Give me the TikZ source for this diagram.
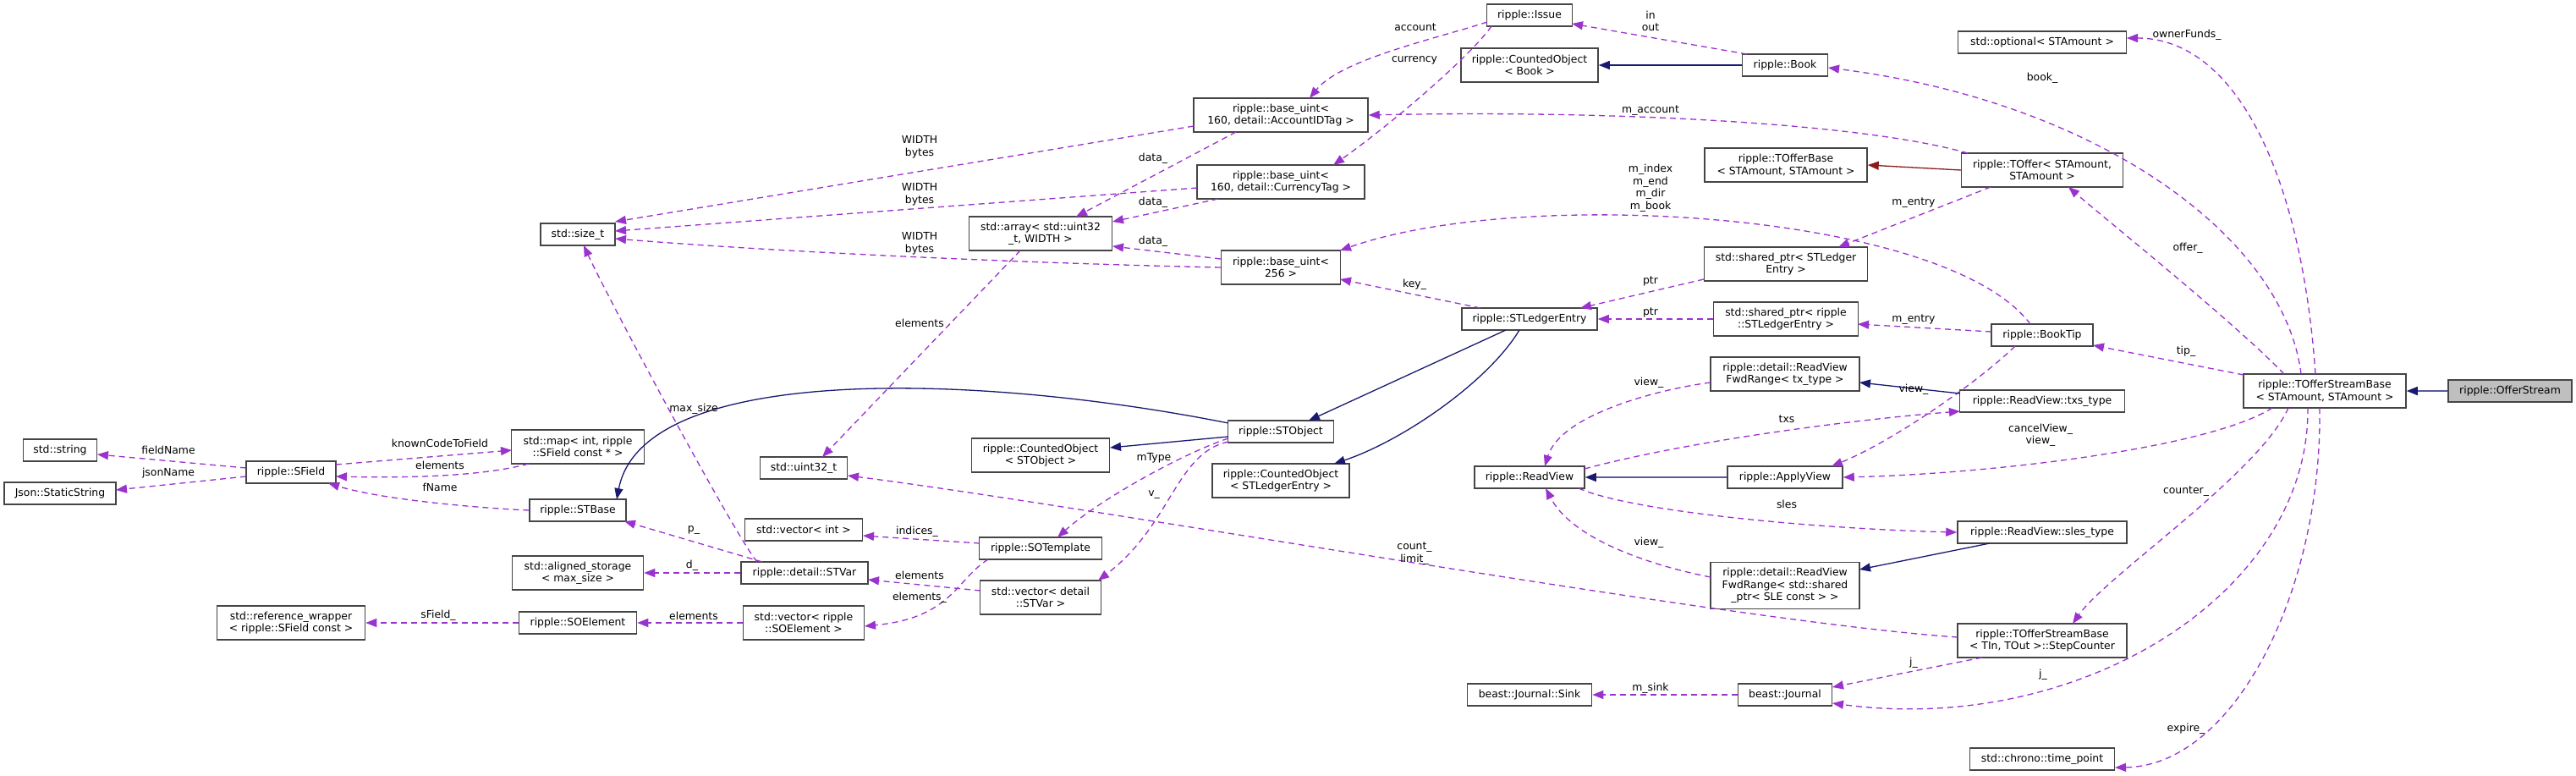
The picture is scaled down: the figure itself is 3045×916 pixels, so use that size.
\documentclass[tikz,border=0pt]{standalone}
\usepackage{fontspec}
\setmainfont{DejaVu Sans}
\usetikzlibrary{arrows.meta,calc}
\definecolor{usec}{HTML}{9A32CD}
\definecolor{inhc}{HTML}{191970}
\definecolor{inhl}{HTML}{5A5A9E}
\definecolor{privc}{HTML}{8B1A1A}
\definecolor{boxc}{HTML}{454545}
\definecolor{selc}{HTML}{BFBFBF}
\newcommand{\dxfont}{\fontsize{12.4}{14.5}\selectfont}
\begin{document}
\begin{tikzpicture}[x=1pt,y=-1pt,
  box/.style={draw=boxc, line width=1.5pt, fill=white, inner sep=0pt, align=center, font=\dxfont},
  wh/.style 2 args={minimum width=#1pt, minimum height=#2pt},
  lbl/.style={inner sep=0pt, align=center, font=\dxfont},
  use/.style={draw=usec, line width=1.3pt, dash pattern=on 7pt off 5pt, -{Triangle[length=13pt,width=10pt]}},
  inh/.style={draw=inhc, line width=1.3pt, -{Triangle[length=13pt,width=10pt]}},
  inhlight/.style={draw=inhl, line width=1.6pt, -{Triangle[length=13pt,width=10pt,color=inhc]}},
  priv/.style={draw=privc, line width=1.3pt, -{Triangle[length=13pt,width=10pt]}}]
\useasboundingbox (0,0) rectangle (3045,916);
% nodes
\node[box,wh={146}{26},fill=selc] (os) at (2967,462) {ripple::OfferStream};
\node[box,wh={192}{40}] (tsb) at (2748,462) {ripple::TOfferStreamBase\\< STAmount, STAmount >};
\node[box,wh={199}{26}] (opt) at (2414,50) {std::optional< STAmount >};
\node[box,wh={101}{26}] (issue) at (1808,18) {ripple::Issue};
\node[box,wh={162}{40}] (cob) at (1808,77) {ripple::CountedObject\\< Book >};
\node[box,wh={101}{26}] (book) at (2110,77) {ripple::Book};
\node[box,wh={206}{40}] (acc) at (1514,136) {ripple::base\_uint<\\160, detail::AccountIDTag >};
\node[box,wh={198}{40}] (cur) at (1514,215) {ripple::base\_uint<\\160, detail::CurrencyTag >};
\node[box,wh={88}{26}] (sizet) at (683,277) {std::size\_t};
\node[box,wh={169}{40}] (arr) at (1230,276) {std::array< std::uint32\\\_t, WIDTH >};
\node[box,wh={141}{40}] (b256) at (1514,316) {ripple::base\_uint<\\256 >};
\node[box,wh={192}{40}] (tob) at (2111,195) {ripple::TOfferBase\\< STAmount, STAmount >};
\node[box,wh={191}{40}] (toffer) at (2414,201) {ripple::TOffer< STAmount,\\STAmount >};
\node[box,wh={193}{40}] (spstle) at (2111,312) {std::shared\_ptr< STLedger\\Entry >};
\node[box,wh={160}{26}] (stle) at (1808,377) {ripple::STLedgerEntry};
\node[box,wh={171}{40}] (spr) at (2111,377) {std::shared\_ptr< ripple\\::STLedgerEntry >};
\node[box,wh={120}{26}] (booktip) at (2414,396) {ripple::BookTip};
\node[box,wh={176}{40}] (fwdtx) at (2110,442) {ripple::detail::ReadView\\FwdRange< tx\_type >};
\node[box,wh={195}{26}] (txs) at (2414,474) {ripple::ReadView::txs\_type};
\node[box,wh={130}{26}] (rv) at (1808,564) {ripple::ReadView};
\node[box,wh={136}{26}] (av) at (2110,564) {ripple::ApplyView};
\node[box,wh={200}{26}] (sles) at (2414,629) {ripple::ReadView::sles\_type};
\node[box,wh={176}{55}] (fwdsle) at (2110,692) {ripple::detail::ReadView\\FwdRange< std::shared\\\_ptr< SLE const > >};
\node[box,wh={200}{40}] (stepc) at (2414,757) {ripple::TOfferStreamBase\\< TIn, TOut >::StepCounter};
\node[box,wh={111}{26}] (journal) at (2110,821) {beast::Journal};
\node[box,wh={147}{26}] (sink) at (1808,821) {beast::Journal::Sink};
\node[box,wh={171}{26}] (tp) at (2414,897) {std::chrono::time\_point};
\node[box,wh={125}{26}] (sto) at (1514,510) {ripple::STObject};
\node[box,wh={163}{40}] (costo) at (1230,538) {ripple::CountedObject\\< STObject >};
\node[box,wh={162}{40}] (costle) at (1514,568) {ripple::CountedObject\\< STLedgerEntry >};
\node[box,wh={145}{26}] (sot) at (1230,648) {ripple::SOTemplate};
\node[box,wh={143}{40}] (vstvar) at (1230,706) {std::vector< detail\\::STVar >};
\node[box,wh={139}{26}] (vint) at (950,626) {std::vector< int >};
\node[box,wh={150}{26}] (stvar) at (951,677) {ripple::detail::STVar};
\node[box,wh={143}{40}] (vsoe) at (950,736) {std::vector< ripple\\::SOElement >};
\node[box,wh={155}{40}] (aligned) at (683,677) {std::aligned\_storage\\< max\_size >};
\node[box,wh={139}{26}] (soe) at (683,736) {ripple::SOElement};
\node[box,wh={114}{26}] (stbase) at (683,603) {ripple::STBase};
\node[box,wh={157}{40}] (map) at (683,528) {std::map< int, ripple\\::SField const * >};
\node[box,wh={103}{26}] (u32) at (950,553) {std::uint32\_t};
\node[box,wh={106}{26}] (sfield) at (344,558) {ripple::SField};
\node[box,wh={87}{26}] (string) at (71,532) {std::string};
\node[box,wh={132}{26}] (json) at (71,583) {Json::StaticString};
\node[box,wh={175}{40}] (refw) at (344,736) {std::reference\_wrapper\\< ripple::SField const >};
% edges
\draw[inhlight] (os.west) -- (tsb.east);
\draw[use] ($(tsb)+(-11,-20)$) .. controls (2720,200) and (2640,45) .. ($(opt)+(100,-5)$);
\draw[use] ($(tsb)+(-28,-20)$) .. controls (2700,280) and (2480,120) .. ($(book)+(51,3)$);
\draw[use] ($(tsb)+(-48,-20)$) .. controls (2640,380) and (2490,260) .. ($(toffer)+(31,20)$);
\draw[use] ($(tsb)+(-96,-19)$) -- ($(booktip)+(60,12)$);
\draw[use] ($(tsb)+(-62,20)$) .. controls (2610,530) and (2350,560) .. (av.east);
\draw[use] ($(tsb)+(-43,20)$) .. controls (2670,560) and (2490,680) .. ($(stepc)+(36,-20)$);
\draw[use] ($(tsb)+(-20,20)$) .. controls (2730,700) and (2460,870) .. ($(journal)+(56,10)$);
\draw[use] ($(tsb)+(-6,20)$) .. controls (2745,700) and (2640,905) .. ($(tp)+(86,10)$);
\draw[use] ($(book)+(-45,-13)$) -- ($(issue)+(50,10)$);
\draw[inh] (book.west) -- (cob.east);
\draw[use] ($(issue)+(-50,8)$) .. controls (1700,45) and (1585,70) .. ($(acc)+(34,-20)$);
\draw[use] ($(issue)+(-45,13)$) .. controls (1735,70) and (1640,150) .. ($(cur)+(62,-20)$);
\draw[use] ($(toffer)+(-88,-20)$) .. controls (2200,145) and (1900,130) .. (acc.east);
\draw[priv] (toffer.west) -- (tob.east);
\draw[use] ($(acc)+(-103,13)$) -- ($(sizet)+(44,-15)$);
\draw[use] ($(acc)+(-53,20)$) -- ($(arr)+(42,-20)$);
\draw[use] ($(cur)+(-99,7)$) -- ($(sizet)+(44,-4)$);
\draw[use] ($(cur)+(-74,20)$) -- ($(arr)+(85,-14)$);
\draw[use] ($(b256)+(-71,0)$) .. controls (1250,312) and (950,300) .. ($(sizet)+(44,5)$);
\draw[use] ($(b256)+(-71,-10)$) -- ($(arr)+(85,15)$);
\draw[use] ($(stle)+(-58,-13)$) -- ($(b256)+(70,14)$);
\draw[use] ($(booktip)+(-14,-13)$) .. controls (2300,250) and (1800,220) .. ($(b256)+(70,-20)$);
\draw[use] ($(toffer)+(-61,20)$) -- ($(spstle)+(62,-20)$);
\draw[use] ($(spstle)+(-97,18)$) -- ($(stle)+(60,-13)$);
\draw[use] (spr.west) -- (stle.east);
\draw[use] ($(booktip)+(-60,-4)$) -- ($(spr)+(85,6)$);
\draw[use] ($(booktip)+(-32,13)$) .. controls (2340,450) and (2240,520) .. ($(av)+(55,-13)$);
\draw[inh] ($(txs)+(-97,-9)$) -- ($(fwdtx)+(88,10)$);
\draw[use] ($(fwdtx)+(-88,10)$) .. controls (1960,460) and (1845,490) .. ($(rv)+(18,-13)$);
\draw[use] ($(rv)+(65,-10)$) .. controls (2000,520) and (2200,495) .. ($(txs)+(-97,12)$);
\draw[inhlight] (av.west) -- (rv.east);
\draw[use] ($(rv)+(58,13)$) .. controls (1930,605) and (2150,625) .. (sles.west);
\draw[inh] ($(sles)+(-62,13)$) -- ($(fwdsle)+(88,-19)$);
\draw[use] ($(fwdsle)+(-88,-10)$) .. controls (1960,670) and (1860,640) .. ($(rv)+(19,13)$);
\draw[use] ($(stepc)+(-71,20)$) -- ($(journal)+(56,-9)$);
\draw[use] (journal.west) -- (sink.east);
\draw[use] ($(stepc)+(-100,-4)$) .. controls (2050,735) and (1300,600) .. ($(u32)+(52,9)$);
\draw[inh] ($(stle)+(-28,13)$) -- ($(sto)+(33,-13)$);
\draw[inh] ($(stle)+(-12,13)$) .. controls (1760,450) and (1660,520) .. ($(costle)+(63,-20)$);
\draw[inh] ($(sto)+(-62,-10)$) .. controls (1150,440) and (760,430) .. ($(stbase)+(46,-13)$);
\draw[inh] ($(sto)+(-62,6)$) -- ($(costo)+(82,-9)$);
\draw[use] ($(sto)+(-62,8)$) .. controls (1400,535) and (1300,590) .. ($(sot)+(20,-13)$);
\draw[use] ($(sto)+(-62,12)$) .. controls (1390,535) and (1385,620) .. ($(vstvar)+(68,-20)$);
\draw[use] ($(arr)+(-24,20)$) -- ($(u32)+(22,-13)$);
\draw[use] ($(stvar)+(-56,-13)$) .. controls (870,635) and (720,355) .. ($(sizet)+(7,13)$);
\draw[use] ($(stvar)+(-50,-13)$) -- ($(stbase)+(55,13)$);
\draw[use] (stvar.west) -- (aligned.east);
\draw[use] ($(vstvar)+(-71,-8)$) -- ($(stvar)+(75,8)$);
\draw[use] ($(sot)+(-72,-6)$) -- ($(vint)+(70,7)$);
\draw[use] ($(sot)+(-62,13)$) .. controls (1130,685) and (1125,730) .. ($(vsoe)+(72,4)$);
\draw[use] (vsoe.west) -- (soe.east);
\draw[use] (soe.west) -- (refw.east);
\draw[use] (stbase.west) .. controls (560,600) and (450,590) .. ($(sfield)+(44,13)$);
\draw[use] ($(map)+(-58,20)$) .. controls (570,563) and (480,565) .. ($(sfield)+(53,5)$);
\draw[use] ($(sfield)+(53,-9)$) -- ($(map)+(-78,4)$);
\draw[use] ($(sfield)+(-53,-5)$) -- ($(string)+(44,5)$);
\draw[use] ($(sfield)+(-53,5)$) -- ($(json)+(66,-4)$);
% labels
\node[lbl] (l1) at (2585,41) {ownerFunds\_};
\node[lbl] (l2) at (2414,92) {book\_};
\node[lbl] (l3) at (2586,293) {offer\_};
\node[lbl] (l4) at (2584,415) {tip\_};
\node[lbl] (l5) at (2412,514) {cancelView\_\\view\_};
\node[lbl] (l6) at (2584,581) {counter\_};
\node[lbl] (l7) at (2415,797) {j\_};
\node[lbl] (l8) at (2584,861) {expire\_};
\node[lbl] (l9) at (1951,25) {in\\out};
\node[lbl] (l10) at (1673,32) {account};
\node[lbl] (l11) at (1672,71) {currency};
\node[lbl] (l12) at (1951,131) {m\_account};
\node[lbl] (l13) at (1087,174) {WIDTH\\bytes};
\node[lbl] (l14) at (1363,187) {data\_};
\node[lbl] (l15) at (1087,230) {WIDTH\\bytes};
\node[lbl] (l16) at (1363,239) {data\_};
\node[lbl] (l17) at (1087,288) {WIDTH\\bytes};
\node[lbl] (l18) at (1363,285) {data\_};
\node[lbl] (l19) at (1672,336) {key\_};
\node[lbl] (l20) at (1951,222) {m\_index\\m\_end\\m\_dir\\m\_book};
\node[lbl] (l21) at (2262,240) {m\_entry};
\node[lbl] (l22) at (1951,332) {ptr};
\node[lbl] (l23) at (1951,369) {ptr};
\node[lbl] (l24) at (2262,378) {m\_entry};
\node[lbl] (l25) at (2262,460) {view\_};
\node[lbl] (l26) at (1949,452) {view\_};
\node[lbl] (l27) at (2112,495) {txs};
\node[lbl] (l28) at (2112,596) {sles};
\node[lbl] (l29) at (1949,641) {view\_};
\node[lbl] (l30) at (2262,783) {j\_};
\node[lbl] (l31) at (1951,813) {m\_sink};
\node[lbl] (l32) at (1672,654) {count\_\\limit\_};
\node[lbl] (l33) at (1364,541) {mType};
\node[lbl] (l34) at (1364,585) {v\_};
\node[lbl] (l35) at (1087,382) {elements};
\node[lbl] (l36) at (820,483) {max\_size};
\node[lbl] (l37) at (820,626) {p\_};
\node[lbl] (l38) at (818,668) {d\_};
\node[lbl] (l39) at (1087,680) {elements};
\node[lbl] (l40) at (1084,628) {indices\_};
\node[lbl] (l41) at (1087,706) {elements\_};
\node[lbl] (l42) at (820,728) {elements};
\node[lbl] (l43) at (518,727) {sField\_};
\node[lbl] (l44) at (520,576) {fName};
\node[lbl] (l45) at (520,550) {elements};
\node[lbl] (l46) at (520,524) {knownCodeToField};
\node[lbl] (l47) at (199,532) {fieldName};
\node[lbl] (l48) at (199,559) {jsonName};
\end{tikzpicture}
\end{document}
